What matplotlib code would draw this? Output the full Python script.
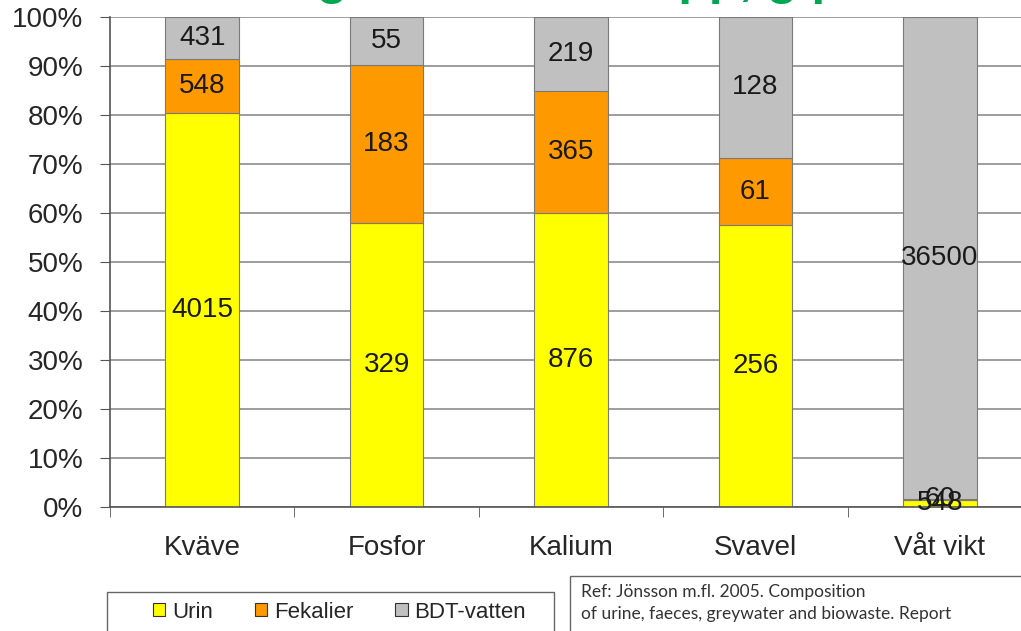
import numpy as np
import matplotlib.pyplot as plt
from matplotlib.patches import Rectangle, Patch

plt.rcParams['font.family'] = ['Liberation Sans', 'DejaVu Sans']

categories = ['Kväve', 'Fosfor', 'Kalium', 'Svavel', 'Våt vikt']
urin = [4015, 329, 876, 256, 548]
fekalier = [548, 183, 365, 61, 60]
bdt_vatten = [431, 55, 219, 128, 36500]
series_names = ['Urin', 'Fekalier', 'BDT-vatten']
colors = ['#FFFF00', '#FF9900', '#C0C0C0']

data = np.array([urin, fekalier, bdt_vatten], dtype=float)
share = data / data.sum(axis=0) * 100

fig = plt.figure(figsize=(10.21, 6.31), dpi=100)
ax = fig.add_axes([110 / 1021, 1 - 507 / 631, 922 / 1021, 490 / 631])

x = np.arange(len(categories))
bottom = np.zeros(len(categories))
for i in range(3):
    ax.bar(x, share[i], 0.4, bottom=bottom, color=colors[i],
           edgecolor='#7a7a7a', linewidth=0.8, zorder=2)
    for j in range(len(categories)):
        ax.text(x[j], bottom[j] + share[i][j] / 2, str(int(data[i][j])),
                ha='center', va='center', fontsize=20, color='#1a1a1a', zorder=3)
    bottom += share[i]

ax.set_xlim(-0.5, 4.5)
ax.set_ylim(0, 100)
ax.set_yticks(np.arange(0, 101, 10))
ax.set_yticklabels(['%d%%' % v for v in range(0, 101, 10)], fontsize=20, color='#262626')
ax.yaxis.grid(True, color='#8c8c8c', linewidth=1.2, zorder=0)
ax.set_axisbelow(True)
ax.tick_params(axis='y', length=7, color='#555555', pad=12)

ax.set_xticks(x)
ax.set_xticklabels(categories, fontsize=20, color='#262626')
ax.set_xticks(np.arange(-0.5, 4.6, 1), minor=True)
ax.tick_params(axis='x', which='major', length=0, pad=20)
ax.tick_params(axis='x', which='minor', length=7, color='#555555')

for s in ['top', 'right']:
    ax.spines[s].set_visible(False)
ax.spines['left'].set_color('#555555')
ax.spines['bottom'].set_color('#555555')
ax.spines['left'].set_linewidth(1.2)
ax.spines['bottom'].set_linewidth(1.2)

# heading, mostly cut off at the top edge
fig.text(0.185, 1.010, 'Näringsämnen i avlopp, g/p och år',
         fontsize=36, fontweight='bold', color='#00A651', ha='left', va='baseline')

# legend box
fig.patches.append(Rectangle((107 / 1021, -0.05), 447 / 1021, 0.05 + (631 - 592) / 631,
                             transform=fig.transFigure, fill=False,
                             edgecolor='#666666', linewidth=1))
handles = [Patch(facecolor=c, edgecolor='#333333', linewidth=0.8) for c in colors]
fig.legend(handles, series_names, loc='center left', bbox_to_anchor=(133 / 1021, 1 - 612 / 631),
           ncol=3, frameon=False, handlelength=0.55, handleheight=0.55, handletextpad=0.3,
           columnspacing=1.9, prop={'size': 16}, labelcolor='#262626')

# reference box
fig.patches.append(Rectangle((570 / 1021, -0.05), 0.5, 0.05 + (631 - 576) / 631,
                             transform=fig.transFigure, fill=False,
                             edgecolor='#666666', linewidth=1))
fig.text(581 / 1021, 1 - 584 / 631,
         'Ref: Jönsson m.fl. 2005. Composition\nof urine, faeces, greywater and biowaste. Report',
         fontsize=12.5, family='Lato', color='#333333', ha='left', va='top', linespacing=1.45)

fig.savefig('out.png', dpi=100)
